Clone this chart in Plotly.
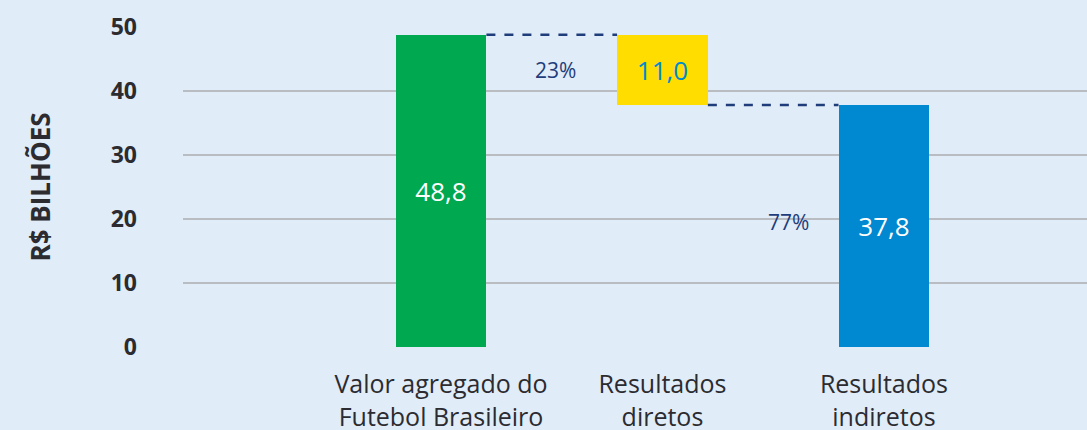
import plotly.graph_objects as go

categories = ["Valor agregado do<br>Futebol Brasileiro", "Resultados<br>diretos", "Resultados<br>indiretos"]
values = [48.8, 11.0, 37.8]
bases = [0, 37.8, 0]
value_labels = ["48,8", "11,0", "37,8"]
bar_colors = ["#00a84f", "#ffdd00", "#0088d1"]
text_colors = ["#ffffff", "#0088d1", "#ffffff"]
share_labels = ["23%", "77%"]
y_ticks = [0, 10, 20, 30, 40, 50]

BG = "#e0ecf8"
NAVY = "#1f3d7a"
DARK = "#2b2b30"
FONT = "Open Sans"
W = 0.41
x = list(range(len(categories)))

fig = go.Figure()
fig.add_trace(go.Bar(
    x=x, y=values, base=bases, width=W,
    marker=dict(color=bar_colors, line=dict(width=0)),
    text=value_labels, textposition="inside", insidetextanchor="middle",
    textfont=dict(color=text_colors, size=26, family=FONT),
    textangle=0, hoverinfo="skip", showlegend=False,
))

# connectors
tops = [b + v for b, v in zip(bases, values)]
fig.add_trace(go.Scatter(
    x=[x[0] + W / 2, x[1] - W / 2], y=[tops[0], tops[0]], mode="lines",
    line=dict(color=NAVY, width=2.5, dash="dash"), showlegend=False, hoverinfo="skip"))
fig.add_trace(go.Scatter(
    x=[x[1] + W / 2, x[2] - W / 2], y=[bases[1], bases[1]], mode="lines",
    line=dict(color=NAVY, width=2.5, dash="dash"), showlegend=False, hoverinfo="skip"))

fig.add_annotation(x=0.515, y=(tops[0] + bases[1]) / 2, text=share_labels[0], showarrow=False,
                   font=dict(color=NAVY, size=21, family=FONT))
fig.add_annotation(x=1.57, y=values[2] / 2 + 0.6, text=share_labels[1], showarrow=False,
                   font=dict(color=NAVY, size=21, family=FONT))

fig.update_layout(
    width=1087, height=430,
    paper_bgcolor=BG, plot_bgcolor=BG,
    margin=dict(l=183, r=0, t=27, b=83),
    bargap=0,
    xaxis=dict(range=[-1.165, 2.917], tickvals=x, ticktext=categories,
               showgrid=False, zeroline=False, showline=False, automargin=False,
               tickfont=dict(size=25, color=DARK, family=FONT), ticks="",
               ticklabelstandoff=20),
    yaxis=dict(range=[0, 50], tickvals=y_ticks,
               ticktext=[f"<b>{t}</b>" for t in y_ticks],
               showgrid=True, gridcolor="#b9bcc0", gridwidth=2, zeroline=False, automargin=False,
               tickfont=dict(size=23, color=DARK, family=FONT),
               ticklabelstandoff=45,
               title=dict(text="<b>R$ BILHÕES</b>", font=dict(size=26, color=DARK, family=FONT),
                          standoff=52)),
)
fig.write_html("out.html", config={"displayModeBar": False},
               post_script="document.body.style.margin='0';document.body.style.overflow='hidden';document.body.style.background='" + BG + "';")
